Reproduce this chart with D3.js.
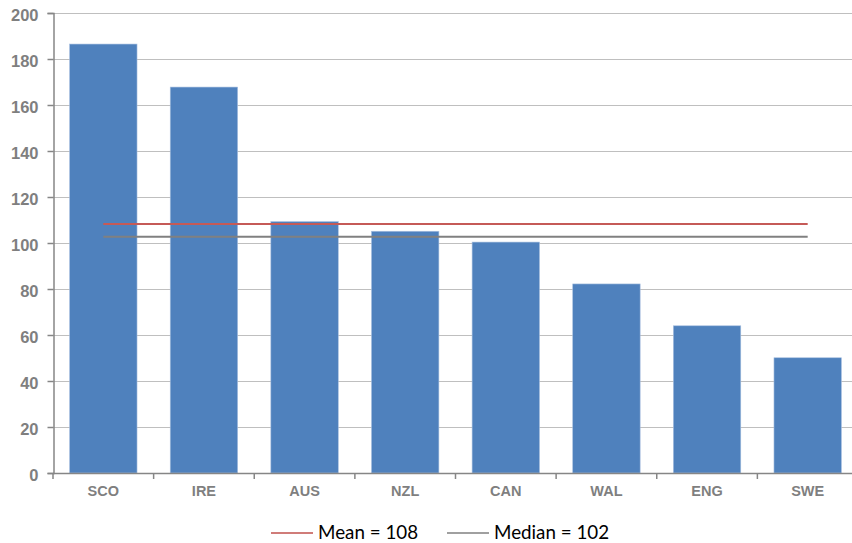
<!DOCTYPE html>
<html><head><meta charset="utf-8">
<script src="https://cdn.jsdelivr.net/npm/d3@7"></script>
<style>body{margin:0;background:#fff;}svg{display:block;}</style>
</head><body>
<script>
const categories = ["SCO","IRE","AUS","NZL","CAN","WAL","ENG","SWE"];
const values = [186.5,167.8,109.3,105.1,100.4,82.2,64,50.1];
const yTicks = [0,20,40,60,80,100,120,140,160,180,200];
const meanValue = 108.3;
const medianValue = 102.7;
const legendLabels = ["Mean = 108","Median = 102"];

(function(){
const W = 852, H = 543;
const svg = d3.select("body").append("svg").attr("width",W).attr("height",H);
const mLeft = 53, mRight = 858, mTop = 13, mBottom = 473;
const x = d3.scaleBand().domain(categories).range([mLeft,mRight]).paddingInner(0.33).paddingOuter(0.165);
const y = d3.scaleLinear().domain([0,200]).range([mBottom,mTop]);

svg.append("g").selectAll("line").data(yTicks.filter(d=>d>0)).join("line")
  .attr("x1",mLeft).attr("x2",W).attr("y1",d=>y(d)+0.5).attr("y2",d=>y(d)+0.5)
  .attr("stroke","#bfbfbf").attr("stroke-width",1);

svg.append("g").selectAll("rect").data(values).join("rect")
  .attr("x",(d,i)=>x(categories[i])).attr("width",x.bandwidth())
  .attr("y",d=>y(d)).attr("height",d=>y(0)-y(d))
  .attr("fill","#4f81bd").attr("stroke","#a7bfdf").attr("stroke-width",0.6);

const x0 = x(categories[0])+x.bandwidth()/2, x1 = x(categories[categories.length-1])+x.bandwidth()/2;
svg.append("line").attr("x1",x0).attr("x2",x1).attr("y1",y(meanValue)).attr("y2",y(meanValue))
  .attr("stroke","#c55a57").attr("stroke-width",2);
svg.append("line").attr("x1",x0).attr("x2",x1).attr("y1",y(medianValue)).attr("y2",y(medianValue))
  .attr("stroke","#808080").attr("stroke-width",2);

const yAxis = svg.append("g").attr("transform",`translate(${mLeft+0.5},0)`)
  .call(d3.axisLeft(y).tickValues(yTicks).tickSize(6).tickPadding(9));
yAxis.select(".domain").attr("stroke","#868686").attr("stroke-width",1.5);
yAxis.selectAll(".tick line").attr("stroke","#868686").attr("stroke-width",1.5);
yAxis.selectAll("text").attr("fill","#7f7f7f").attr("font-family","Liberation Sans, Arial, sans-serif")
  .attr("font-weight","bold").attr("font-size","16.5px").attr("dy","0.45em");

const xb = d3.scaleBand().domain(categories).range([mLeft,mRight]);
const xAxis = svg.append("g").attr("transform",`translate(0,${mBottom+0.5})`)
  .call(d3.axisBottom(xb).tickSize(0).tickPadding(12));
xAxis.select(".domain").remove();
svg.append("line").attr("x1",mLeft).attr("x2",W).attr("y1",mBottom+0.5).attr("y2",mBottom+0.5)
  .attr("stroke","#868686").attr("stroke-width",1.5);
svg.append("g").selectAll("line").data(d3.range(categories.length+1)).join("line")
  .attr("x1",i=>mLeft+i*xb.step()).attr("x2",i=>mLeft+i*xb.step())
  .attr("y1",mBottom).attr("y2",mBottom+6).attr("stroke","#868686").attr("stroke-width",1.5);
xAxis.selectAll("text").attr("fill","#7f7f7f").attr("font-family","Liberation Sans, Arial, sans-serif")
  .attr("font-weight","bold").attr("font-size","14.5px");

const legend = svg.append("g");
const legendColors = ["#c0504d","#808080"];
const lx = [271,447];
legendLabels.forEach((t,i)=>{
  legend.append("line").attr("x1",lx[i]).attr("x2",lx[i]+42).attr("y1",533).attr("y2",533)
    .attr("stroke",legendColors[i]).attr("stroke-width",1.5);
  legend.append("text").attr("x",lx[i]+47).attr("y",539).text(t)
    .attr("font-family","Lato, 'Open Sans', sans-serif").attr("font-size","18.8px").attr("fill","#000");
});
})();
</script>
</body></html>
